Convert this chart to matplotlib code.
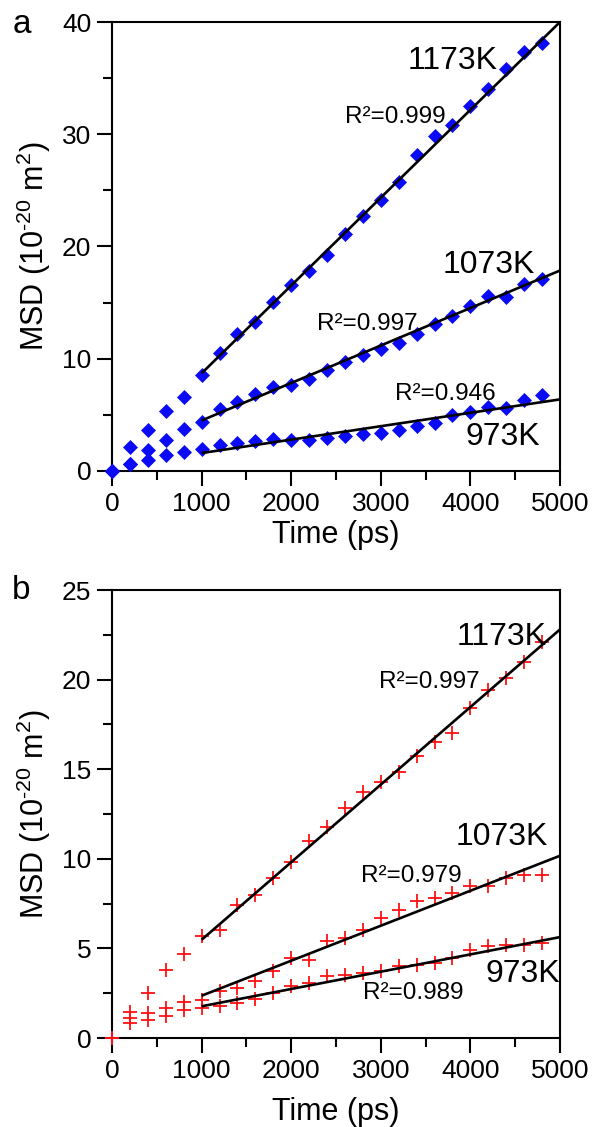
import numpy as np
import matplotlib
matplotlib.use("Agg")
import matplotlib.pyplot as plt
from matplotlib.ticker import MultipleLocator

plt.rcParams['font.family'] = ['Liberation Sans', 'DejaVu Sans']
plt.rcParams['mathtext.fontset'] = 'custom'
plt.rcParams['mathtext.rm'] = 'Liberation Sans'
plt.rcParams['mathtext.it'] = 'Liberation Sans:italic'
plt.rcParams['mathtext.sf'] = 'Liberation Sans'

# ---------------- data ----------------
time_ps = [0, 200, 400, 600, 800, 1000, 1200, 1400, 1600, 1800, 2000, 2200, 2400,
           2600, 2800, 3000, 3200, 3400, 3600, 3800, 4000, 4200, 4400, 4600, 4800]

# panel a (blue diamonds)
a_1173 = [0, 2.14, 3.68, 5.31, 6.59, 8.58, 10.5, 12.17, 13.26, 15.04, 16.53, 17.8, 19.2,
          21.13, 22.76, 24.1, 25.79, 28.16, 29.88, 30.86, 32.55, 34.04, 35.8, 37.3, 38.1]
a_1073 = [0, 0.65, 1.84, 2.79, 3.77, 4.36, 5.55, 6.14, 6.88, 7.48, 7.63, 8.22, 8.96,
          9.70, 10.3, 10.89, 11.39, 12.23, 13.06, 13.8, 14.69, 15.55, 15.49, 16.68, 17.12]
a_973 = [0, 0.65, 1.0, 1.45, 1.69, 1.99, 2.34, 2.49, 2.67, 2.88, 2.79, 2.73, 2.94,
         3.09, 3.32, 3.38, 3.68, 3.98, 4.27, 4.96, 5.25, 5.7, 5.64, 6.35, 6.74]

# panel b (red crosses)
b_1173 = [0, 1.43, 2.51, 3.81, 4.70, 5.67, 6.04, 7.43, 7.99, 8.92, 9.80, 10.97, 11.77,
          12.83, 13.75, 14.31, 14.87, 15.71, 16.54, 17.04, 18.40, 19.42, 20.07, 21.0, 22.1]
b_1073 = [0, 1.12, 1.39, 1.67, 1.99, 2.10, 2.6, 2.79, 3.16, 3.72, 4.46, 4.37, 5.39,
          5.58, 6.04, 6.69, 7.16, 7.62, 7.81, 8.09, 8.46, 8.46, 8.92, 9.11, 9.11]
b_973 = [0, 0.84, 0.99, 1.21, 1.58, 1.67, 1.77, 1.95, 2.17, 2.51, 2.88, 3.07, 3.44,
         3.53, 3.62, 3.72, 4.0, 4.09, 4.18, 4.46, 4.93, 5.11, 5.2, 5.2, 5.3]

# linear fit lines (start/end values over fit range)
fit_x = [1000, 5000]
fit_a_1173 = [8.7, 40.0]
fit_a_1073 = [4.5, 17.86]
fit_a_973 = [1.6, 6.38]
fit_b_1173 = [5.48, 22.8]
fit_b_1073 = [2.36, 10.17]
fit_b_973 = [1.77, 5.63]

temps = ["1173K", "1073K", "973K"]
r2_a = ["R²=0.999", "R²=0.997", "R²=0.946"]
r2_b = ["R²=0.997", "R²=0.979", "R²=0.989"]

# ---------------- figure ----------------
W, H = 594, 1127
fig = plt.figure(figsize=(W / 100, H / 100), dpi=100)

def px_axes(left, top, right, bottom):
    return fig.add_axes([left / W, 1 - bottom / H, (right - left) / W, (bottom - top) / H])

ax_a = px_axes(112, 22, 560, 471)
ax_b = px_axes(112, 590, 560, 1038)

YLABEL = r"MSD (10$^{\mathrm{\text{-20}}}$ m$^{2}$)"

def style(ax, ymax, ymajor, yminor, xpad):
    ax.set_xlim(0, 5000)
    ax.set_ylim(0, ymax)
    ax.xaxis.set_major_locator(MultipleLocator(1000))
    ax.xaxis.set_minor_locator(MultipleLocator(500))
    ax.yaxis.set_major_locator(MultipleLocator(ymajor))
    ax.yaxis.set_minor_locator(MultipleLocator(yminor))
    for s in ax.spines.values():
        s.set_linewidth(1.5)
    ax.tick_params(which='both', direction='out', top=False, right=False, width=1.5)
    ax.tick_params(which='major', length=11, labelsize=19, pad=4)
    ax.tick_params(which='minor', length=6.5)
    ax.set_xlabel("Time (ps)", fontsize=22, labelpad=xpad)
    ax.set_ylabel(YLABEL, fontsize=22, labelpad=6)

blue = '#0A0AF5'
red = '#FF1010'

for y in (a_1173, a_1073, a_973):
    ax_a.plot(time_ps, y, linestyle='none', marker='D', ms=7.2, color=blue,
              mec=blue, mew=0.5, clip_on=False, zorder=3)
for y in (fit_a_1173, fit_a_1073, fit_a_973):
    ax_a.plot(fit_x, y, color='black', lw=1.9, zorder=4, solid_capstyle='butt')

for y in (b_1173, b_1073, b_973):
    ax_b.plot(time_ps, y, linestyle='none', marker='+', ms=10, color=red,
              mew=1.3, clip_on=False, zorder=3)
for y in (fit_b_1173, fit_b_1073, fit_b_973):
    ax_b.plot(fit_x, y, color='black', lw=1.9, zorder=4, solid_capstyle='butt')

style(ax_a, 40, 10, 5, 3)
style(ax_b, 25, 5, 2.5, 10)

# annotations panel a
TK = 23
RK = 17.5
ax_a.text(4300, 35.8, temps[0], fontsize=TK, ha='right', va='baseline')
ax_a.text(2600, 31.0, r2_a[0], fontsize=RK, ha='left', va='baseline')
ax_a.text(4720, 17.6, temps[1], fontsize=TK, ha='right', va='baseline')
ax_a.text(2288, 12.56, r2_a[1], fontsize=RK, ha='left', va='baseline')
ax_a.text(3158, 6.3, r2_a[2], fontsize=RK, ha='left', va='baseline')
ax_a.text(4777, 2.3, temps[2], fontsize=TK, ha='right', va='baseline')

# annotations panel b
ax_b.text(4855, 21.93, temps[0], fontsize=TK, ha='right', va='baseline')
ax_b.text(2980, 19.53, r2_b[0], fontsize=RK, ha='left', va='baseline')
ax_b.text(4866, 10.77, temps[1], fontsize=TK, ha='right', va='baseline')
ax_b.text(2779, 8.7, r2_b[1], fontsize=RK, ha='left', va='baseline')
ax_b.text(5000, 3.12, temps[2], fontsize=TK, ha='right', va='baseline')
ax_b.text(2800, 2.18, r2_b[2], fontsize=RK, ha='left', va='baseline')

# panel letters
fig.text(13 / W, 1 - 33 / H, "a", fontsize=24, ha='left', va='baseline')
fig.text(12 / W, 1 - 599 / H, "b", fontsize=24, ha='left', va='baseline')

fig.savefig("out.png", dpi=100)
